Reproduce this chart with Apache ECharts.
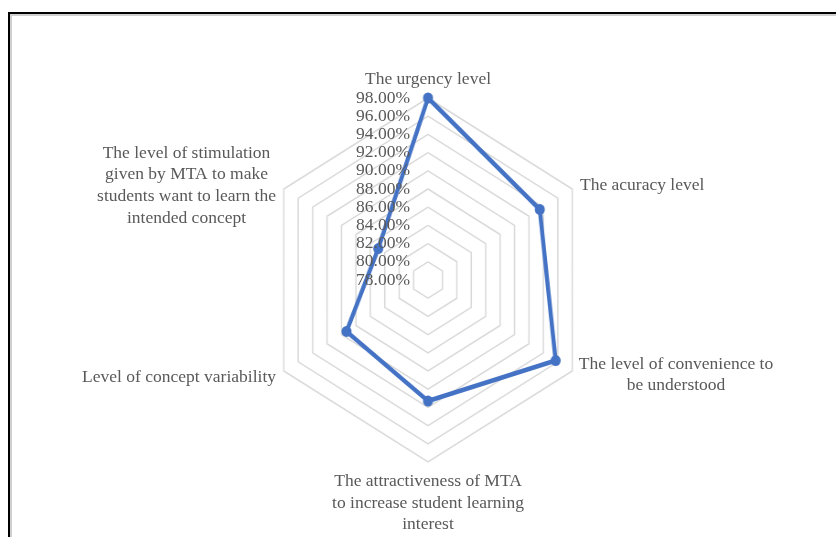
<!DOCTYPE html>
<html>
<head>
<meta charset="utf-8">
<script src="https://cdn.jsdelivr.net/npm/echarts@6/dist/echarts.min.js"></script>
<style>
  html, body { margin: 0; padding: 0; background: #ffffff; }
  #wrap { position: relative; width: 836px; height: 537px; overflow: hidden; background: #fff; }
  #frame { position: absolute; left: 8px; top: 12px; width: 900px; height: 600px;
           border-left: 2px solid #000; border-top: 2px solid #000;
           box-shadow: inset 2px 2px 0 #cfcfcf; box-sizing: border-box; }
  #chartA { position: absolute; left: 0; top: 0; width: 836px; height: 537px;
            transform: scaleX(0.915); transform-origin: 428px 0; }
  #chartB { position: absolute; left: 0; top: 0; width: 836px; height: 537px; }
</style>
</head>
<body>
<div id="wrap">
  <div id="frame"></div>
  <div id="chartA"></div>
  <div id="chartB"></div>
</div>
<script>
// ---- data (Excel order, clockwise from top) ----
const categories = [
  'The urgency level',
  'The acuracy level',
  'The level of convenience to\nbe understood',
  'The attractiveness of MTA\nto increase student learning\ninterest',
  'Level of concept variability',
  'The level of stimulation\ngiven by MTA to make\nstudents want to learn the\nintended concept'
];
const values = [98.0, 93.5, 95.7, 91.3, 89.3, 84.9];
const axisMin = 78;
const axisMax = 98;
const axisStep = 2;

// ECharts places indicators counter-clockwise; reorder to draw clockwise
const drawOrder = [0, 5, 4, 3, 2, 1];

const FONT = "'Liberation Serif', 'Times New Roman', serif";
const TXT = '#595959';
const CENTER = [428, 280];
const RADIUS = 182;

function indicators(withLabel) {
  return drawOrder.map((i, k) => {
    const ind = { name: categories[i], min: axisMin, max: axisMax };
    if (withLabel && k === 0) {
      ind.axisLabel = {
        show: true, margin: 18, color: TXT, fontFamily: FONT, fontSize: 17.5,
        formatter: v => Number(v).toFixed(2) + '%'
      };
    }
    return ind;
  });
}

// Layer A: rings + data line (horizontally compressed like the reference)
const chartA = echarts.init(document.getElementById('chartA'), null, { renderer: 'canvas' });
chartA.setOption({
  animation: false,
  radar: {
    center: CENTER,
    radius: RADIUS,
    startAngle: 90,
    shape: 'polygon',
    splitNumber: (axisMax - axisMin) / axisStep,
    indicator: indicators(false),
    axisName: { show: false },
    axisLine: { show: false },
    axisTick: { show: false },
    axisLabel: { show: false },
    splitArea: { show: false },
    splitLine: { lineStyle: { color: '#d9d9d9', width: 1.5 } }
  },
  series: [{
    type: 'radar',
    symbol: 'circle',
    symbolSize: 11,
    lineStyle: { color: '#4472C4', width: 4.5 },
    itemStyle: { color: '#4472C4' },
    data: [{ value: drawOrder.map(i => values[i]) }]
  }]
});

// Layer B: tick labels and category names (uncompressed text)
const chartB = echarts.init(document.getElementById('chartB'), null, { renderer: 'canvas' });
const nameLayout = [
  { x: 428, y: 79, align: 'center' },
  { x: 580, y: 185, align: 'left' },
  { x: 676, y: 375, align: 'center' },
  { x: 428, y: 503, align: 'center' },
  { x: 276, y: 377, align: 'right' },
  { x: 186.5, y: 185.5, align: 'center' }
];
chartB.setOption({
  animation: false,
  backgroundColor: 'transparent',
  radar: {
    center: CENTER,
    radius: RADIUS,
    startAngle: 90,
    shape: 'polygon',
    splitNumber: (axisMax - axisMin) / axisStep,
    indicator: indicators(true),
    axisName: { show: false },
    axisLine: { show: false },
    axisTick: { show: false },
    axisLabel: { show: false },
    splitArea: { show: false },
    splitLine: { show: false }
  },
  graphic: categories.map((name, i) => ({
    type: 'text',
    x: nameLayout[i].x,
    y: nameLayout[i].y,
    silent: true,
    style: {
      text: name,
      fill: TXT,
      font: '17.5px ' + FONT,
      lineHeight: 21.7,
      align: nameLayout[i].align,
      verticalAlign: 'middle'
    }
  }))
});
</script>
</body>
</html>
